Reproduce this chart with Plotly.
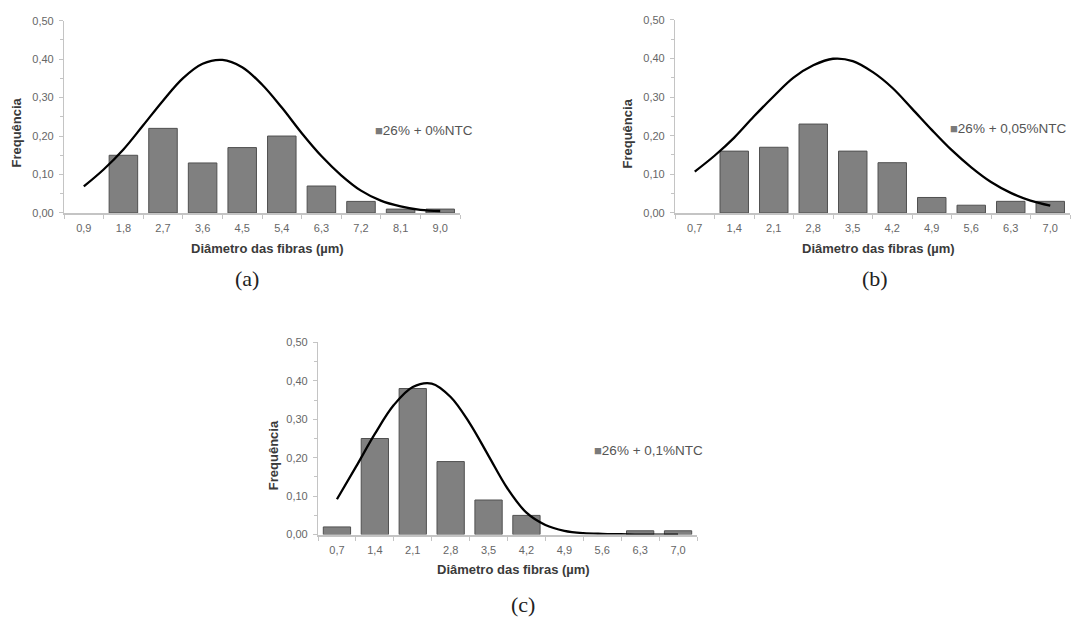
import plotly.graph_objects as go

# ---------------- data ----------------
# (a) 26% + 0%NTC
a_x = [0.9, 1.8, 2.7, 3.6, 4.5, 5.4, 6.3, 7.2, 8.1, 9.0]
a_labels = ["0,9", "1,8", "2,7", "3,6", "4,5", "5,4", "6,3", "7,2", "8,1", "9,0"]
a_bars = [None, 0.15, 0.22, 0.13, 0.17, 0.20, 0.07, 0.03, 0.01, 0.01]
a_curve_x = [0.9, 1.35, 1.8, 2.25, 2.7, 3.15, 3.6, 4.05, 4.5, 4.95, 5.4, 5.85, 6.3, 6.75, 7.2, 7.65, 8.1, 8.55, 9.0]
a_curve_y = [0.069, 0.113, 0.165, 0.228, 0.292, 0.350, 0.388, 0.398, 0.379, 0.334, 0.274, 0.208, 0.148, 0.098, 0.058, 0.032, 0.017, 0.008, 0.005]
a_name = "26% + 0%NTC"

# (b) 26% + 0,05%NTC
b_x = [0.7, 1.4, 2.1, 2.8, 3.5, 4.2, 4.9, 5.6, 6.3, 7.0]
b_labels = ["0,7", "1,4", "2,1", "2,8", "3,5", "4,2", "4,9", "5,6", "6,3", "7,0"]
b_bars = [None, 0.16, 0.17, 0.23, 0.16, 0.13, 0.04, 0.02, 0.03, 0.03]
b_curve_x = [0.7, 1.05, 1.4, 1.75, 2.1, 2.45, 2.8, 3.15, 3.5, 3.85, 4.2, 4.55, 4.9, 5.25, 5.6, 5.95, 6.3, 6.65, 7.0]
b_curve_y = [0.107, 0.148, 0.195, 0.250, 0.302, 0.350, 0.382, 0.399, 0.393, 0.365, 0.324, 0.270, 0.215, 0.163, 0.118, 0.080, 0.052, 0.032, 0.019]
b_name = "26% + 0,05%NTC"

# (c) 26% + 0,1%NTC
c_x = [0.7, 1.4, 2.1, 2.8, 3.5, 4.2, 4.9, 5.6, 6.3, 7.0]
c_labels = ["0,7", "1,4", "2,1", "2,8", "3,5", "4,2", "4,9", "5,6", "6,3", "7,0"]
c_bars = [0.02, 0.25, 0.38, 0.19, 0.09, 0.05, None, None, 0.01, 0.01]
c_curve_x = [0.7, 1.05, 1.4, 1.75, 2.1, 2.45, 2.8, 3.15, 3.5, 3.85, 4.2, 4.55, 4.9, 5.25, 5.6, 5.95, 6.3, 6.65, 7.0]
c_curve_y = [0.092, 0.176, 0.262, 0.337, 0.384, 0.393, 0.358, 0.290, 0.205, 0.120, 0.057, 0.025, 0.010, 0.004, 0.002, 0.001, 0.0, 0.0, 0.0]
c_name = "26% + 0,1%NTC"

y_ticks = [0, 0.1, 0.2, 0.3, 0.4, 0.5]
y_ticktext = ["0,00", "0,10", "0,20", "0,30", "0,40", "0,50"]

x_title = "Diâmetro das fibras (µm)"
y_title = "Frequência"

# ---------------- styling ----------------
BAR_FILL = "#808080"
BAR_LINE = "#505050"
AXIS_COL = "#c4c4c4"
FAM = "Liberation Sans, Arial, sans-serif"
TICK_FONT = dict(family=FAM, size=11, color="#666666")
TITLE_FONT = dict(family=FAM, size=13, color="#3a3a3a")
LEG_FONT = dict(family=FAM, size=13.5, color="#555555")
PANEL_FONT = dict(family="Liberation Serif, Times New Roman, serif", size=22, color="#222222")

W, H = 1087, 623

panels = [
    dict(x=a_x, labels=a_labels, bars=a_bars, cx=a_curve_x, cy=a_curve_y, name=a_name,
         px=(64, 460), py=(15, 211), leg=(373, 127), ytitle=(17, 129), xtitle=(267, 247),
         tag="(a)", tagpos=(247, 278)),
    dict(x=b_x, labels=b_labels, bars=b_bars, cx=b_curve_x, cy=b_curve_y, name=b_name,
         px=(675, 1070), py=(14, 211), leg=(948, 125), ytitle=(627, 130), xtitle=(878, 247),
         tag="(b)", tagpos=(875, 278)),
    dict(x=c_x, labels=c_labels, bars=c_bars, cx=c_curve_x, cy=c_curve_y, name=c_name,
         px=(318, 697), py=(343, 539), leg=(592, 453), ytitle=(273, 458), xtitle=(513, 575),
         tag="(c)", tagpos=(523, 610)),
]

fig = go.Figure()
annotations = []
layout_axes = {}

for i, p in enumerate(panels):
    n = "" if i == 0 else str(i + 1)
    xa, ya = "x" + n, "y" + n
    step = p["x"][1] - p["x"][0]
    fig.add_trace(go.Bar(
        x=p["x"], y=p["bars"], xaxis=xa, yaxis=ya, width=step * 0.72,
        marker=dict(color=BAR_FILL, line=dict(color=BAR_LINE, width=1)),
        showlegend=False, name=p["name"],
    ))
    fig.add_trace(go.Scatter(
        x=p["cx"], y=p["cy"], xaxis=xa, yaxis=ya, mode="lines",
        line=dict(color="black", width=2.3, shape="spline", smoothing=1.0),
        showlegend=False, hoverinfo="skip",
    ))
    x0, x1 = p["px"]
    yt, yb = p["py"]
    layout_axes["xaxis" + n] = dict(
        domain=[x0 / W, x1 / W], anchor=ya,
        range=[p["x"][0] - step / 2, p["x"][-1] + step / 2],
        tickvals=p["x"], ticktext=p["labels"], ticks="", ticklabelstandoff=4,
        minor=dict(tick0=p["x"][0] - step / 2, dtick=step, ticks="outside", ticklen=4,
                   tickcolor=AXIS_COL, showgrid=False),
        showline=True, linecolor=AXIS_COL, linewidth=2, showgrid=False, zeroline=False,
        tickfont=TICK_FONT, fixedrange=True,
    )
    layout_axes["yaxis" + n] = dict(
        domain=[1 - yb / H, 1 - yt / H], anchor=xa, range=[0, 0.5],
        tickvals=y_ticks, ticktext=y_ticktext, ticks="outside", ticklen=4, tickcolor=AXIS_COL,
        minor=dict(dtick=0.05, tick0=0, ticks="outside", ticklen=3, tickcolor=AXIS_COL, showgrid=False),
        showline=True, linecolor=AXIS_COL, linewidth=1.2, showgrid=False, zeroline=False,
        tickfont=TICK_FONT, ticklabelstandoff=3, fixedrange=True,
    )
    lx, ly = p["leg"]
    annotations.append(dict(
        x=lx / W, y=1 - ly / H, xref="paper", yref="paper", showarrow=False,
        xanchor="left", yanchor="middle", font=LEG_FONT,
        text="<span style='color:#7a7a7a;font-size:13px'>■</span>" + p["name"],
    ))
    annotations.append(dict(
        x=p["ytitle"][0] / W, y=1 - p["ytitle"][1] / H, xref="paper", yref="paper",
        text="<b>" + y_title + "</b>", textangle=-90, showarrow=False, font=TITLE_FONT,
        xanchor="center", yanchor="middle",
    ))
    annotations.append(dict(
        x=p["xtitle"][0] / W, y=1 - p["xtitle"][1] / H, xref="paper", yref="paper",
        text="<b>" + x_title + "</b>", showarrow=False, font=TITLE_FONT,
        xanchor="center", yanchor="middle",
    ))
    annotations.append(dict(
        x=p["tagpos"][0] / W, y=1 - p["tagpos"][1] / H, xref="paper", yref="paper",
        text=p["tag"], showarrow=False, font=PANEL_FONT, xanchor="center", yanchor="middle",
    ))

fig.update_layout(
    width=W, height=H, margin=dict(l=0, r=0, t=0, b=0),
    paper_bgcolor="white", plot_bgcolor="white", showlegend=False,
    annotations=annotations, **layout_axes,
)

fig.write_html("out.html", config={"displayModeBar": False})
